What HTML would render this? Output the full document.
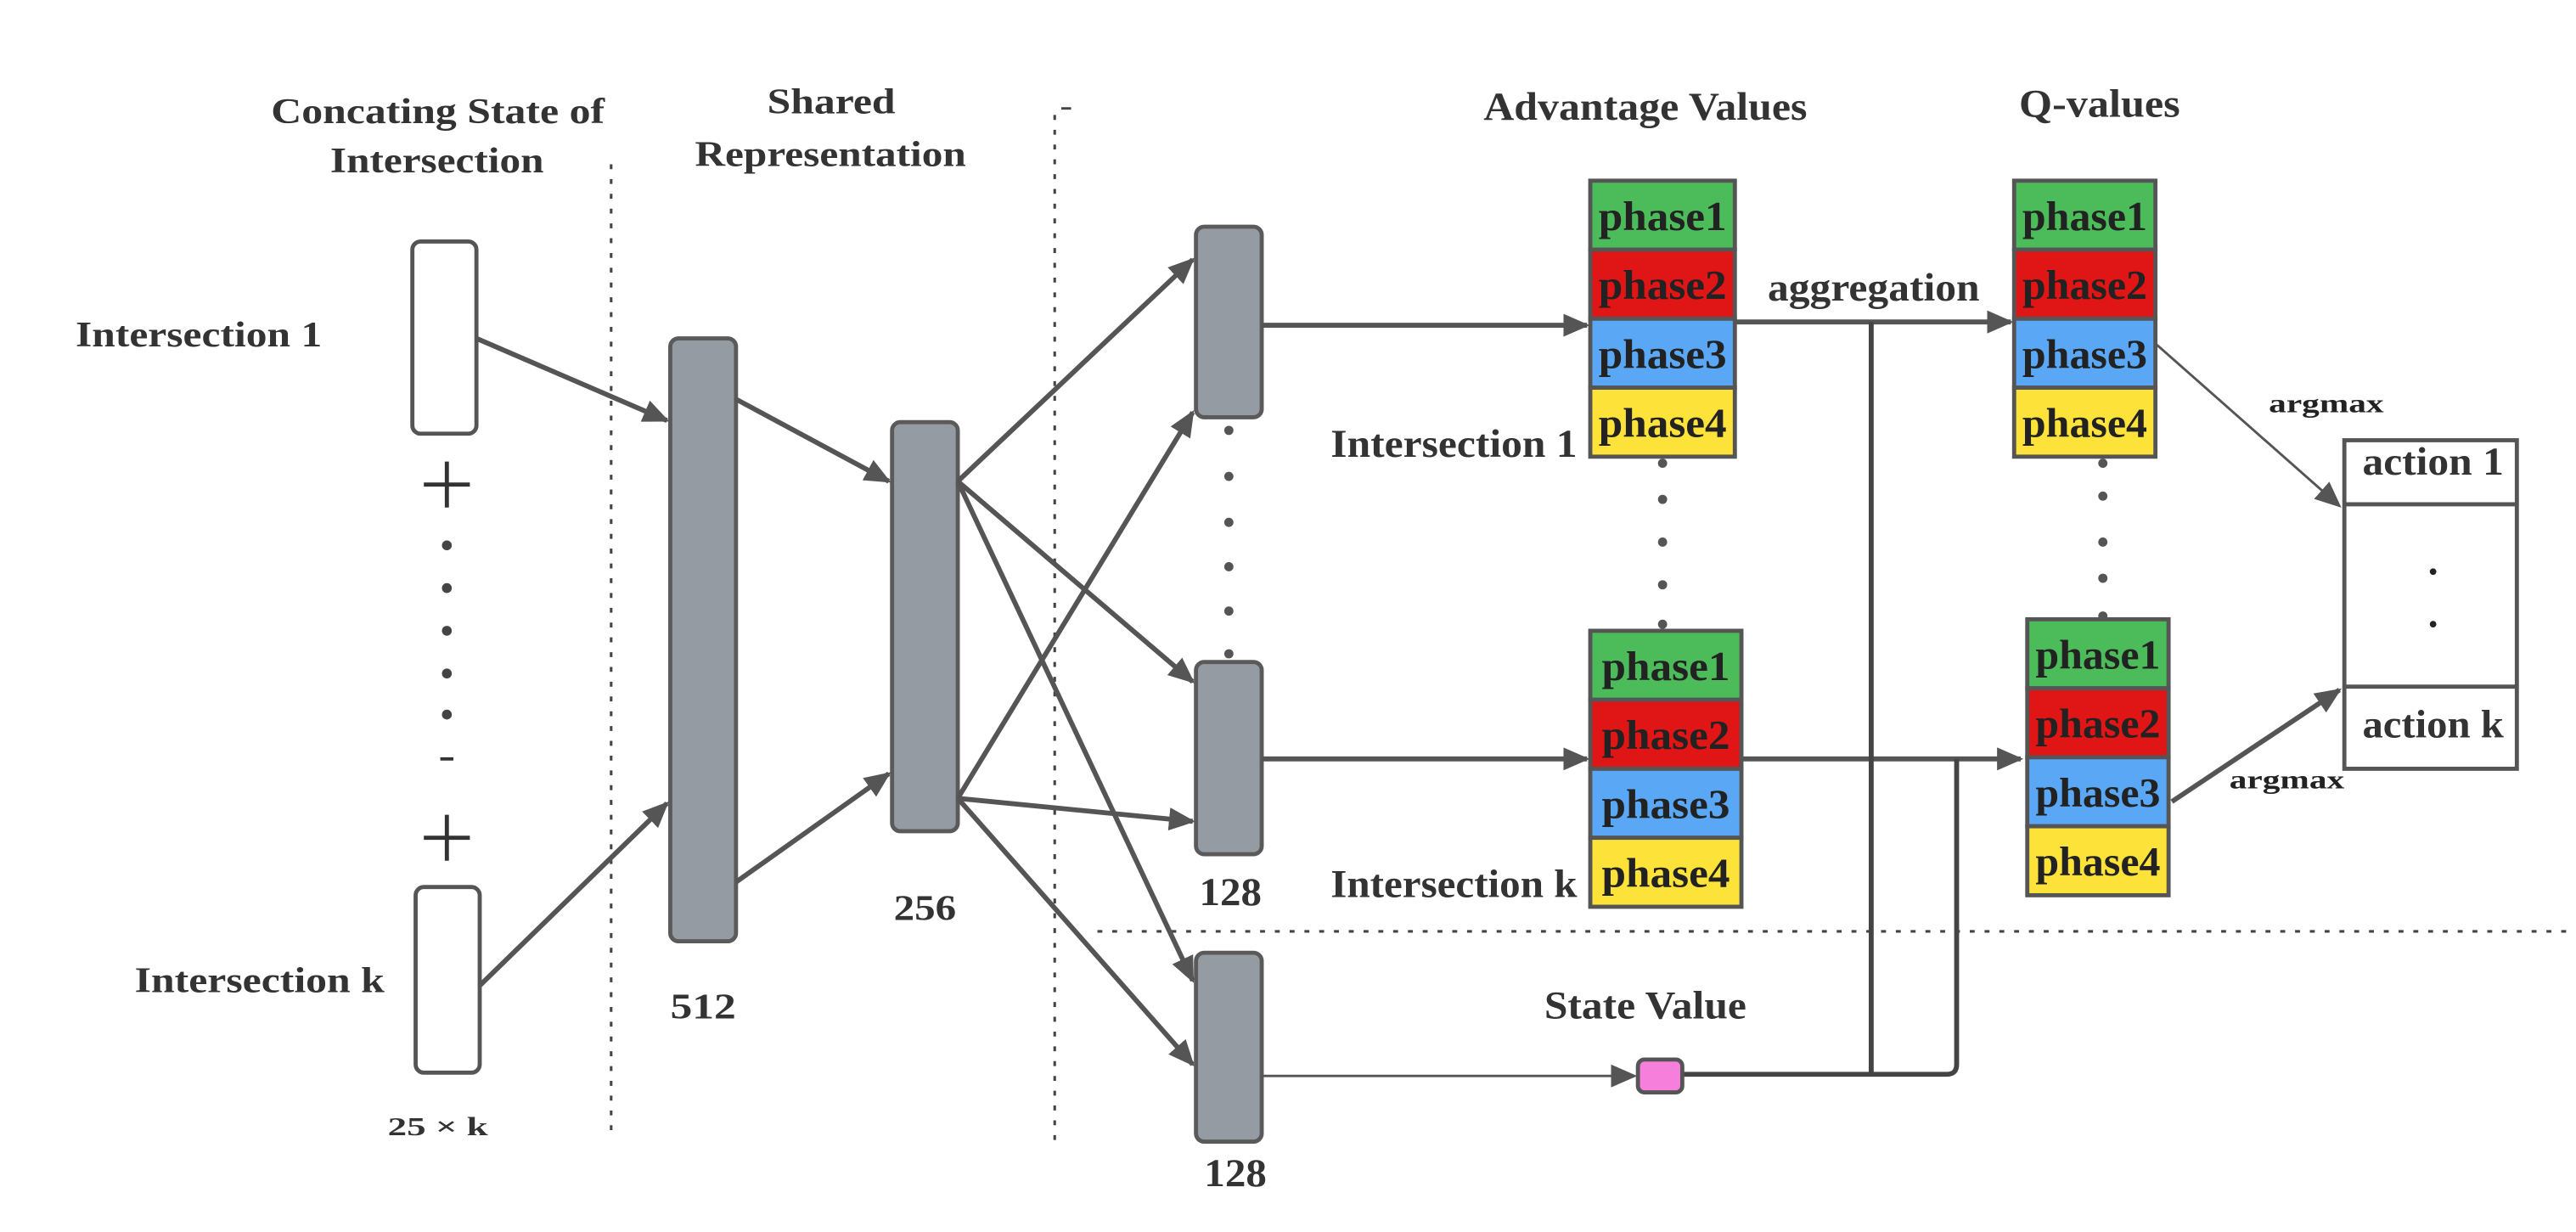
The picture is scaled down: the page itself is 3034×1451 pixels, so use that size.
<!DOCTYPE html>
<html><head><meta charset="utf-8"><style>html,body{margin:0;padding:0;background:#fff}svg{display:block}</style></head>
<body>
<svg width="3034" height="1451" viewBox="0 0 1568 750" preserveAspectRatio="none" xmlns="http://www.w3.org/2000/svg" font-family="'Liberation Serif', serif" font-weight="bold" fill="#333">
<defs>
<marker id="a" viewBox="0 0 10 10" refX="9" refY="5" markerWidth="16" markerHeight="14" orient="auto" markerUnits="userSpaceOnUse" preserveAspectRatio="none"><path d="M0,0 L10,5 L0,10 z" fill="#555"/></marker>
</defs>
<!-- titles -->
<g font-size="22" fill="#333" lengthAdjust="spacingAndGlyphs">
<text x="165" y="75" textLength="203" lengthAdjust="spacingAndGlyphs">Concating State of</text>
<text x="201" y="105" textLength="130" lengthAdjust="spacingAndGlyphs">Intersection</text>
<text x="467" y="69" textLength="78" lengthAdjust="spacingAndGlyphs">Shared</text>
<text x="423" y="101" textLength="165" lengthAdjust="spacingAndGlyphs">Representation</text>
<text x="46" y="211" textLength="150" lengthAdjust="spacingAndGlyphs">Intersection 1</text>
<text x="82" y="604" textLength="152" lengthAdjust="spacingAndGlyphs">Intersection k</text>
<text x="408" y="620" textLength="40" lengthAdjust="spacingAndGlyphs">512</text>
<text x="544" y="560" textLength="38" lengthAdjust="spacingAndGlyphs">256</text>
</g>
<g font-size="24" fill="#333">
<text x="903" y="73" textLength="197" lengthAdjust="spacingAndGlyphs">Advantage Values</text>
<text x="1229" y="71" textLength="98" lengthAdjust="spacingAndGlyphs">Q-values</text>
<text x="940" y="620" textLength="123" lengthAdjust="spacingAndGlyphs">State Value</text>
<text x="810" y="278" textLength="150" lengthAdjust="spacingAndGlyphs">Intersection 1</text>
<text x="810" y="546" textLength="150" lengthAdjust="spacingAndGlyphs">Intersection k</text>
<text x="1076" y="183" textLength="129" lengthAdjust="spacingAndGlyphs">aggregation</text>
<text x="730" y="551" textLength="38" lengthAdjust="spacingAndGlyphs">128</text>
<text x="733" y="722" textLength="38" lengthAdjust="spacingAndGlyphs">128</text>
</g>
<text x="236" y="691" font-size="16" textLength="61" lengthAdjust="spacingAndGlyphs">25 × k</text>
<!-- dotted lines -->
<g stroke="#444" stroke-width="1.6" stroke-dasharray="3,6" fill="none">
<line x1="372" y1="100" x2="372" y2="690"/>
<line x1="642" y1="70" x2="642" y2="700"/>
<line x1="668" y1="567" x2="1568" y2="567"/>
</g>
<line x1="646" y1="66" x2="652" y2="66" stroke="#444" stroke-width="1.5"/>
<!-- input boxes -->
<g fill="#fff" stroke="#555" stroke-width="2.5">
<rect x="251" y="147" width="39" height="117" rx="5"/>
<rect x="253" y="540" width="39" height="113" rx="5"/>
</g>
<g stroke="#333" stroke-width="2.5"><line x1="258" y1="295" x2="286" y2="295"/><line x1="272" y1="281" x2="272" y2="309"/>
<line x1="258" y1="510" x2="286" y2="510"/><line x1="272" y1="496" x2="272" y2="524"/>
<line x1="268" y1="462" x2="276" y2="462" stroke-width="2"/></g>
<g fill="#444"><circle cx="272" cy="332" r="3"/><circle cx="272" cy="358" r="3"/><circle cx="272" cy="384" r="3"/><circle cx="272" cy="410" r="3"/><circle cx="272" cy="435" r="3"/></g>
<!-- gray bars -->
<g fill="#959ba3" stroke="#5a5a5a" stroke-width="2.5">
<rect x="408" y="206" width="40" height="367" rx="5"/>
<rect x="543" y="257" width="40" height="249" rx="5"/>
<rect x="728" y="138" width="40" height="116" rx="5"/>
<rect x="728" y="403" width="40" height="117" rx="5"/>
<rect x="728" y="580" width="40" height="115" rx="5"/>
</g>
<g fill="#555"><circle cx="748" cy="262" r="2.8"/><circle cx="748" cy="290" r="2.8"/><circle cx="748" cy="318" r="2.8"/><circle cx="748" cy="345" r="2.8"/><circle cx="748" cy="372" r="2.8"/><circle cx="748" cy="398" r="2.8"/>
<circle cx="1012" cy="282" r="2.8"/><circle cx="1012" cy="304" r="2.8"/><circle cx="1012" cy="330" r="2.8"/><circle cx="1012" cy="356" r="2.8"/><circle cx="1012" cy="380" r="2.8"/>
<circle cx="1280" cy="282" r="2.8"/><circle cx="1280" cy="302" r="2.8"/><circle cx="1280" cy="330" r="2.8"/><circle cx="1280" cy="352" r="2.8"/><circle cx="1280" cy="375" r="2.8"/></g>
<!-- arrows -->
<g stroke="#555" stroke-width="3" fill="none" marker-end="url(#a)">
<line x1="290" y1="206" x2="406" y2="256"/>
<line x1="292" y1="600" x2="406" y2="489"/>
<line x1="448" y1="243" x2="541" y2="293"/>
<line x1="448" y1="537" x2="541" y2="471"/>
<line x1="583" y1="293" x2="726" y2="158"/>
<line x1="583" y1="293" x2="726" y2="415"/>
<line x1="583" y1="293" x2="726" y2="597"/>
<line x1="583" y1="486" x2="726" y2="251"/>
<line x1="583" y1="486" x2="726" y2="500"/>
<line x1="583" y1="486" x2="726" y2="648"/>
<line x1="768" y1="198" x2="966" y2="198"/>
<line x1="768" y1="462" x2="966" y2="462"/>
<line x1="1056" y1="196" x2="1224" y2="196"/>
<line x1="1060" y1="462" x2="1230" y2="462"/>
<line x1="1322" y1="488" x2="1424" y2="420"/>
</g>
<g stroke="#555" stroke-width="1.5" fill="none" marker-end="url(#a)">
<line x1="768" y1="655" x2="995" y2="655"/>
<line x1="1313" y1="210" x2="1424" y2="308"/>
</g>
<g stroke="#444" stroke-width="3" fill="none">
<line x1="1139" y1="196" x2="1139" y2="653"/>
<path d="M1024,654 L1185,654 Q1191,654 1191,648 L1191,462"/>
</g>
<rect x="997" y="645" width="27" height="20" rx="4" fill="#f77fdc" stroke="#555" stroke-width="2.5"/>
<g font-size="16" fill="#222"><text x="1381" y="251" textLength="70" lengthAdjust="spacingAndGlyphs">argmax</text><text x="1357" y="480" textLength="70" lengthAdjust="spacingAndGlyphs">argmax</text></g>
<!-- action box -->
<g fill="#fff" stroke="#555" stroke-width="2.5">
<rect x="1427" y="268" width="105" height="200"/>
<line x1="1427" y1="307" x2="1532" y2="307"/>
<line x1="1427" y1="418" x2="1532" y2="418"/>
</g>
<g fill="#222"><circle cx="1481" cy="348" r="2"/><circle cx="1481" cy="380" r="2"/></g>
<g font-size="24"><text x="1438" y="289" textLength="86" lengthAdjust="spacingAndGlyphs">action 1</text><text x="1438" y="449" textLength="86" lengthAdjust="spacingAndGlyphs">action k</text></g>
<!-- phase blocks -->
<g stroke="#555" stroke-width="2.5" font-size="25">
<g transform="translate(968,110)">
<rect width="88" height="42" fill="#4cbb5a"/><rect y="42" width="88" height="42" fill="#e01515"/><rect y="84" width="88" height="42" fill="#5aa7f5"/><rect y="126" width="88" height="42" fill="#fde23a"/>
<g stroke="none" fill="#222"><text x="5" y="30" textLength="78" lengthAdjust="spacingAndGlyphs">phase1</text><text x="5" y="72" textLength="78" lengthAdjust="spacingAndGlyphs">phase2</text><text x="5" y="114" textLength="78" lengthAdjust="spacingAndGlyphs">phase3</text><text x="5" y="156" textLength="78" lengthAdjust="spacingAndGlyphs">phase4</text></g></g>
<g transform="translate(968,384)">
<rect width="92" height="42" fill="#4cbb5a"/><rect y="42" width="92" height="42" fill="#e01515"/><rect y="84" width="92" height="42" fill="#5aa7f5"/><rect y="126" width="92" height="42" fill="#fde23a"/>
<g stroke="none" fill="#222"><text x="7" y="30" textLength="78" lengthAdjust="spacingAndGlyphs">phase1</text><text x="7" y="72" textLength="78" lengthAdjust="spacingAndGlyphs">phase2</text><text x="7" y="114" textLength="78" lengthAdjust="spacingAndGlyphs">phase3</text><text x="7" y="156" textLength="78" lengthAdjust="spacingAndGlyphs">phase4</text></g></g>
<g transform="translate(1226,110)">
<rect width="86" height="42" fill="#4cbb5a"/><rect y="42" width="86" height="42" fill="#e01515"/><rect y="84" width="86" height="42" fill="#5aa7f5"/><rect y="126" width="86" height="42" fill="#fde23a"/>
<g stroke="none" fill="#222"><text x="5" y="30" textLength="76" lengthAdjust="spacingAndGlyphs">phase1</text><text x="5" y="72" textLength="76" lengthAdjust="spacingAndGlyphs">phase2</text><text x="5" y="114" textLength="76" lengthAdjust="spacingAndGlyphs">phase3</text><text x="5" y="156" textLength="76" lengthAdjust="spacingAndGlyphs">phase4</text></g></g>
<g transform="translate(1234,377)">
<rect width="86" height="42" fill="#4cbb5a"/><rect y="42" width="86" height="42" fill="#e01515"/><rect y="84" width="86" height="42" fill="#5aa7f5"/><rect y="126" width="86" height="42" fill="#fde23a"/>
<g stroke="none" fill="#222"><text x="5" y="30" textLength="76" lengthAdjust="spacingAndGlyphs">phase1</text><text x="5" y="72" textLength="76" lengthAdjust="spacingAndGlyphs">phase2</text><text x="5" y="114" textLength="76" lengthAdjust="spacingAndGlyphs">phase3</text><text x="5" y="156" textLength="76" lengthAdjust="spacingAndGlyphs">phase4</text></g></g>
</g>
</svg>
</body></html>
